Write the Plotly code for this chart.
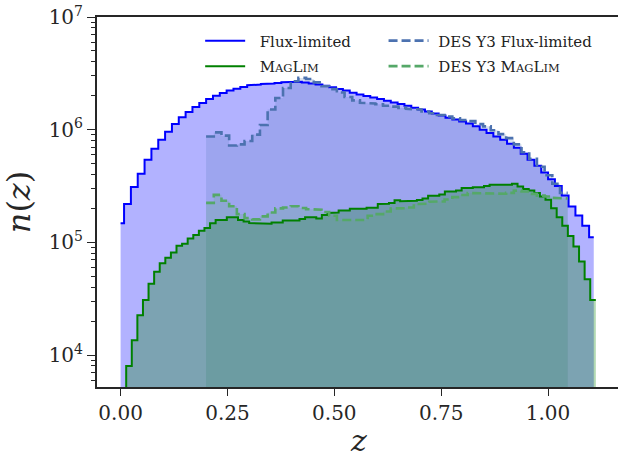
import plotly.graph_objects as go

# ---------------- data ----------------
# Flux-limited sample: first bin is narrow, then regular bins
flux_first_edge = 0.0081
flux_bin_width = 0.0160
flux_last_edge = 1.107
flux_counts = [
    148000, 219000, 310000, 406000, 541000, 678000, 815000, 959000, 1125000, 1288000,
    1435000, 1592000, 1726000, 1875000, 2004000, 2118000, 2223000, 2312000, 2393000, 2477000,
    2512000, 2541000, 2570000, 2600000, 2642000, 2673000, 2661000, 2618000, 2570000, 2512000,
    2455000, 2382000, 2301000, 2223000, 2128000, 2051000, 1986000, 1932000, 1871000, 1807000,
    1746000, 1687000, 1629000, 1567000, 1507000, 1452000, 1390000, 1334000, 1276000, 1230000,
    1180000, 1135000, 1072000, 1000000, 933000, 871000, 813000, 750000, 692000, 610000,
    541000, 479000, 417000, 363000, 316000, 261000, 208000, 173000, 140000, 111000,
]

# MagLim sample
maglim_bin_width = 0.01308
maglim_counts = [
    2000, 7980, 13500, 22500, 30800, 42800, 54700, 65300, 72800, 81100,
    93100, 97000, 108000, 116000, 127000, 134000, 148000, 158000, 158000, 167000,
    167000, 158000, 153000, 148000, 148000, 146000, 146000, 150000, 150000, 156000,
    156000, 156000, 161000, 167000, 167000, 163000, 175000, 182000, 184000, 192000,
    192000, 199000, 199000, 199000, 203000, 203000, 219000, 220000, 223000, 236000,
    232000, 232000, 234000, 237000, 245000, 259000, 259000, 266000, 283000, 283000,
    288000, 303000, 303000, 309000, 309000, 316000, 324000, 320000, 324000, 324000,
    331000, 313000, 297000, 288000, 274000, 255000, 239000, 201000, 167000, 140000,
    114000, 91800, 67600, 47100, 30800,
]

# DES Y3 samples
des_start = 0.200
des_bin_width = 0.018
des_flux_counts = [
    871000, 946000, 885000, 724000, 741000, 794000, 904000, 1100000, 1510000, 1910000,
    2340000, 2690000, 2880000, 2820000, 2630000, 2430000, 2290000, 2140000, 1950000, 1820000,
    1730000, 1710000, 1680000, 1630000, 1600000, 1560000, 1530000, 1510000, 1450000, 1400000,
    1350000, 1310000, 1260000, 1220000, 1190000, 1120000, 1070000, 989000, 912000, 841000,
    741000, 631000, 550000, 468000, 394000, 331000, 275000,
]
des_maglim_counts = [
    224000, 264000, 234000, 209000, 178000, 164000, 160000, 170000, 184000, 200000,
    204000, 209000, 202000, 197000, 195000, 186000, 172000, 158000, 157000, 157000,
    158000, 172000, 178000, 188000, 200000, 201000, 204000, 219000, 220000, 229000,
    231000, 240000, 252000, 263000, 274000, 274000, 274000, 272000, 270000, 275000,
    288000, 283000, 269000, 260000, 255000, 248000, 245000,
]

x_ticks = [0.0, 0.25, 0.5, 0.75, 1.0]
x_tick_labels = ["0.00", "0.25", "0.50", "0.75", "1.00"]
y_ticks = [1e4, 1e5, 1e6, 1e7]
y_tick_labels = ["10<sup>4</sup>", "10<sup>5</sup>", "10<sup>6</sup>", "10<sup>7</sup>"]

# ---------------- bin edges ----------------
flux_edges = [0.0] + [flux_first_edge + flux_bin_width * k for k in range(len(flux_counts) - 1)] + [flux_last_edge]
maglim_edges = [maglim_bin_width * k for k in range(len(maglim_counts) + 1)]
des_edges = [des_start + des_bin_width * k for k in range(len(des_flux_counts) + 1)]

FLOOR = 1.0  # below the visible log range; used to close the filled areas


def step_xy(edges, counts):
    xs, ys = [], []
    for i, c in enumerate(counts):
        xs += [edges[i], edges[i + 1]]
        ys += [c, c]
    return xs, ys


def fill_xy(edges, counts):
    xs, ys = step_xy(edges, counts)
    return [edges[0]] + xs + [edges[-1]], [FLOOR] + ys + [FLOOR]


smallcaps = "M<span style='font-size:11.5px'>AG</span>L<span style='font-size:11.5px'>IM</span>"
series = [
    ("  Flux-limited", flux_edges, flux_counts, "#0000ff", "rgba(0,0,255,0.3)", "solid", 2, "legend", 1),
    ("  " + smallcaps, maglim_edges, maglim_counts, "#008000", "rgba(0,128,0,0.3)", "solid", 2, "legend", 2),
    (" DES Y3 Flux-limited", des_edges, des_flux_counts, "#4c72b0", "rgba(76,114,176,0.2)", "9px,4px", 2.6, "legend2", 1),
    (" DES Y3 " + smallcaps, des_edges, des_maglim_counts, "#55a868", "rgba(85,168,104,0.2)", "9px,4px", 2.6, "legend2", 2),
]

fig = go.Figure()
for name, e, c, lc, fc, dash, lw, lg, rank in series:
    fx, fy = fill_xy(e, c)
    fig.add_trace(go.Scatter(x=fx, y=fy, mode="lines", fill="toself", fillcolor=fc,
                             line=dict(width=0), showlegend=False, hoverinfo="skip"))
for name, e, c, lc, fc, dash, lw, lg, rank in series:
    sx, sy = step_xy(e, c)
    fig.add_trace(go.Scatter(x=sx, y=sy, mode="lines", name=name,
                             line=dict(color=lc, width=lw, dash=dash),
                             legend=lg, legendrank=rank, legendgroup=f"g{lg}{rank}"))

font_family = "DejaVu Serif"
axis_col = "#262626"
leg_font = dict(size=15, family=font_family, color="#222222")
fig.update_layout(
    width=618, height=461,
    margin=dict(l=97, r=0, t=17, b=74),
    paper_bgcolor="white", plot_bgcolor="white",
    font=dict(family=font_family, color=axis_col),
    legend=dict(x=0.198, y=0.98, xanchor="left", yanchor="top", bgcolor="rgba(0,0,0,0)",
                font=leg_font, itemwidth=40, tracegroupgap=3),
    legend2=dict(x=0.55, y=0.98, xanchor="left", yanchor="top", bgcolor="rgba(0,0,0,0)",
                 font=leg_font, itemwidth=40, tracegroupgap=3),
    xaxis=dict(range=[-0.0552, 1.1637], tickvals=x_ticks, ticktext=x_tick_labels,
               ticks="outside", ticklen=7, tickwidth=1.2, tickcolor=axis_col,
               showline=True, linecolor=axis_col, linewidth=2, mirror=True,
               showgrid=False, zeroline=False, automargin=False,
               tickfont=dict(size=20, family=font_family, color=axis_col)),
    yaxis=dict(type="log", range=[3.716, 7.0], tickvals=y_ticks, ticktext=y_tick_labels,
               ticks="outside", ticklen=8, tickwidth=1.2, tickcolor=axis_col,
               showline=True, linecolor=axis_col, linewidth=2, mirror=False,
               showgrid=False, zeroline=False, automargin=False,
               tickfont=dict(size=20, family=font_family, color=axis_col),
               minor=dict(tickvals=[m * 10 ** d for d in range(3, 7) for m in range(2, 10)],
                          ticks="outside", ticklen=4, tickwidth=1, tickcolor=axis_col),
               title=dict(text="<i>n</i>(<i>z</i>)", font=dict(size=32, family=font_family, color=axis_col), standoff=16)),
    annotations=[dict(text="<i>z</i>", xref="paper", yref="paper", x=0.501, y=-0.1976,
                      xanchor="center", yanchor="bottom", showarrow=False,
                      font=dict(size=30, family=font_family, color=axis_col))],
)

fig.write_html("out.html")
